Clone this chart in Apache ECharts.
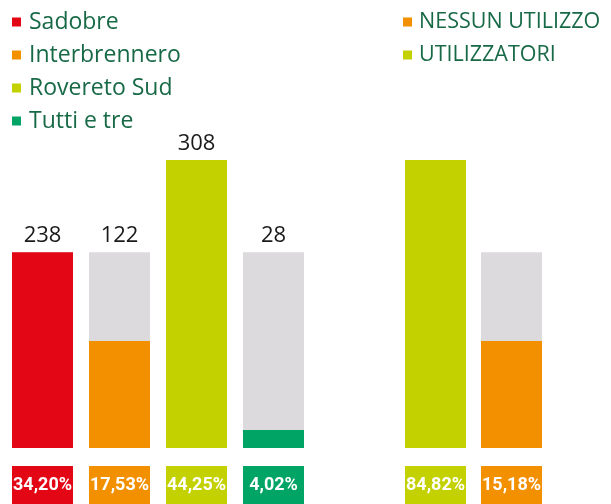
<!DOCTYPE html>
<html>
<head>
<meta charset="utf-8">
<script src="https://cdn.jsdelivr.net/npm/echarts@6/dist/echarts.min.js"></script>
<style>
  html, body { margin: 0; padding: 0; background: #fff; }
  #chart { width: 611px; height: 504px; }
</style>
</head>
<body>
<div id="chart"></div>
<script>
// values
var leftCats = ['Sadobre', 'Interbrennero', 'Rovereto Sud', 'Tutti e tre'];
var leftCounts = [238, 122, 308, 28];
// drawn bar heights, same scale as the grey track (track = 238)
var leftHeights = [238, 130, 350, 22];
var leftPct = ['34,20%', '17,53%', '44,25%', '4,02%'];

var rightCats = ['UTILIZZATORI', 'NESSUN UTILIZZO'];
var rightHeights = [350, 130];
var rightPct = ['84,82%', '15,18%'];

var trackHeight = 238;

var RED = '#e30615', ORANGE = '#f39000', LIME = '#c3d100', GREEN = '#00a566', GREY = '#dcdadd';
var leftColors = [RED, ORANGE, LIME, GREEN];
var rightColors = [LIME, ORANGE];
var TEXT_GREEN = '#186a47';

var chart = echarts.init(document.getElementById('chart'));

function onlyAt(arr, i) {
  return arr.map(function (v, j) { return j === i ? v : '-'; });
}

var series = [];

// grey tracks + count labels (left)
series.push({
  type: 'bar', xAxisIndex: 0, yAxisIndex: 0, barWidth: 61, barGap: '-100%',
  silent: true, z: 1,
  data: leftHeights.map(function (h) { return Math.max(h, trackHeight); }),
  itemStyle: { color: GREY },
  label: {
    show: true, position: 'top', distance: 5,
    fontFamily: 'Open Sans', fontSize: 22, color: '#1a1a1a',
    formatter: function (p) { return leftCounts[p.dataIndex]; }
  }
});
leftCats.forEach(function (name, i) {
  series.push({
    name: name, type: 'bar', xAxisIndex: 0, yAxisIndex: 0, barWidth: 61, barGap: '-100%',
    z: 2, data: onlyAt(leftHeights, i), itemStyle: { color: leftColors[i] }
  });
});

// right group
series.push({
  type: 'bar', xAxisIndex: 1, yAxisIndex: 1, barWidth: 61, barGap: '-100%',
  silent: true, z: 1,
  data: rightHeights.map(function (h) { return Math.max(h, trackHeight); }),
  itemStyle: { color: GREY }
});
rightCats.forEach(function (name, i) {
  series.push({
    name: name, type: 'bar', xAxisIndex: 1, yAxisIndex: 1, barWidth: 61, barGap: '-100%',
    z: 2, data: onlyAt(rightHeights, i), itemStyle: { color: rightColors[i] }
  });
});

// percentage boxes
var pctLabel = {
  show: true, position: 'inside', color: '#fff', fontWeight: 'bold',
  fontFamily: 'Roboto', fontSize: 18
};
series.push({
  type: 'bar', xAxisIndex: 2, yAxisIndex: 2, barWidth: 61, silent: true,
  data: leftPct.map(function (t, i) { return { value: 1, itemStyle: { color: leftColors[i] } }; }),
  label: Object.assign({ formatter: function (p) { return leftPct[p.dataIndex]; } }, pctLabel)
});
series.push({
  type: 'bar', xAxisIndex: 3, yAxisIndex: 3, barWidth: 61, silent: true,
  data: rightPct.map(function (t, i) { return { value: 1, itemStyle: { color: rightColors[i] } }; }),
  label: Object.assign({ formatter: function (p) { return rightPct[p.dataIndex]; } }, pctLabel)
});

function catAxis(idx, data) {
  return { type: 'category', gridIndex: idx, data: data, show: false };
}
function valAxis(idx, max) {
  return { type: 'value', gridIndex: idx, min: 0, max: max, show: false };
}

var option = {
  animation: false,
  backgroundColor: '#fff',
  legend: [
    {
      data: leftCats, orient: 'vertical', left: 12, top: 10, padding: 0,
      icon: 'rect', itemWidth: 9, itemHeight: 9, itemGap: 9, selectedMode: false,
      textStyle: {
        fontFamily: 'Open Sans', fontSize: 23, color: TEXT_GREEN, lineHeight: 24,
        padding: [0, 0, 0, 3]
      }
    },
    {
      data: ['NESSUN UTILIZZO', 'UTILIZZATORI'], orient: 'vertical', left: 403, top: 10, padding: 0,
      icon: 'rect', itemWidth: 9, itemHeight: 9, itemGap: 9, selectedMode: false,
      textStyle: {
        fontFamily: 'Open Sans', fontSize: 21.5, color: TEXT_GREEN, lineHeight: 24,
        padding: [0, 0, 0, 2]
      }
    }
  ],
  grid: [
    { left: 4, width: 308, top: 160, height: 288 },
    { left: 397.5, width: 152, top: 160, height: 288 },
    { left: 4, width: 308, top: 466, height: 38 },
    { left: 397.5, width: 152, top: 466, height: 38 }
  ],
  xAxis: [catAxis(0, leftCats), catAxis(1, rightCats), catAxis(2, leftCats), catAxis(3, rightCats)],
  yAxis: [valAxis(0, 350), valAxis(1, 350), valAxis(2, 1), valAxis(3, 1)],
  series: series
};

chart.setOption(option);
</script>
</body>
</html>
